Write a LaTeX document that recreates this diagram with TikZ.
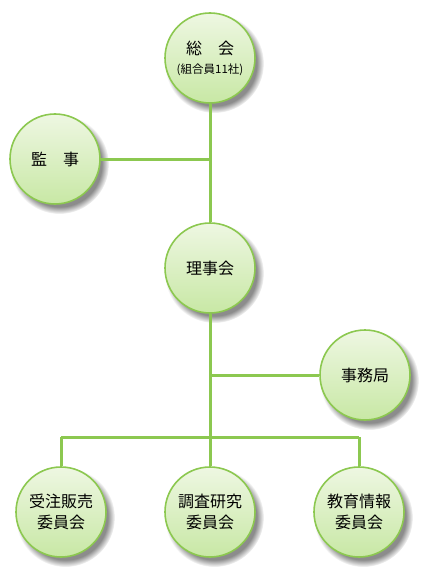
\documentclass[tikz,border=0pt]{standalone}
\usepackage{fontspec}
\setmainfont{Noto Sans CJK JP}
\usetikzlibrary{shadows}
\definecolor{lineg}{RGB}{140,200,80}
\definecolor{fillt}{RGB}{238,247,226}
\definecolor{fillb}{RGB}{200,232,165}
\tikzset{
  org/.style={circle, draw=lineg, line width=1.6pt, minimum size=90pt, inner sep=0pt,
    top color=fillt, bottom color=fillb, align=center, font=\fontsize{16}{21}\selectfont,
    circular drop shadow={shadow xshift=4pt, shadow yshift=-5pt, fill=black!45}},
  conn/.style={draw=lineg, line width=3pt}
}
\begin{document}
\begin{tikzpicture}[x=1pt,y=-1pt]
\useasboundingbox (0,0) rectangle (430,575);
\node[org] (soukai) at (210,58) {総　会\\[-2pt]{\fontsize{11.5}{14}\selectfont (組合員11社)}};
\node[org] (kanji) at (55,159) {監　事};
\node[org] (riji) at (210,268) {理事会};
\node[org] (jimu) at (365,375) {事務局};
\node[org] (juchu) at (61,512) {受注販売\\委員会};
\node[org] (chosa) at (210,512) {調査研究\\委員会};
\node[org] (kyoiku) at (359,512) {教育情報\\委員会};
\coordinate (k1) at (210,159);
\coordinate (j1) at (210,375);
\coordinate (bm) at (210,437);
\coordinate (bl) at (61,437);
\coordinate (br) at (359,437);
\path[conn] (soukai) -- (riji);
\path[conn] (kanji.east) -- (k1);
\path[conn] (riji) -- (bm);
\path[conn] (j1) -- (jimu.west);
\path[conn] (bl) -- (br);
\path[conn] (bl) -- (juchu.north);
\path[conn] (bm) -- (chosa.north);
\path[conn] (br) -- (kyoiku.north);
\end{tikzpicture}
\end{document}
